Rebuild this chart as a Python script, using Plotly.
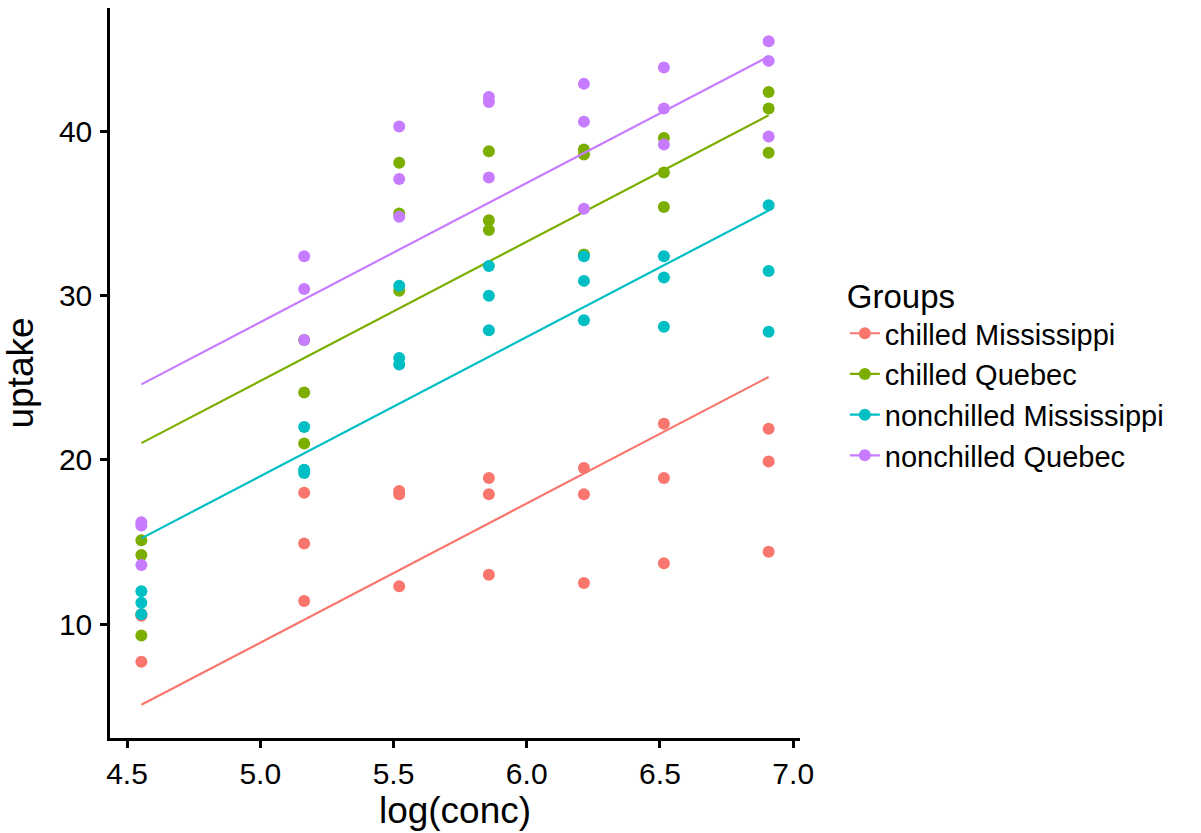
import numpy as np
import plotly.graph_objects as go

conc = [95, 175, 250, 350, 500, 675, 1000]
groups = ["chilled Mississippi", "chilled Quebec", "nonchilled Mississippi", "nonchilled Quebec"]
colors = ["#F8766D", "#7CAE00", "#00BFC4", "#C77CFF"]

# uptake per plant, by concentration
chilled_mississippi = [
    [10.5, 14.9, 18.1, 18.9, 19.5, 22.2, 21.9],
    [7.7, 11.4, 12.3, 13.0, 12.5, 13.7, 14.4],
    [10.6, 18.0, 17.9, 17.9, 17.9, 18.9, 19.9],
]
chilled_quebec = [
    [14.2, 24.1, 30.3, 34.6, 32.5, 35.4, 38.7],
    [9.3, 27.3, 35.0, 38.8, 38.6, 37.5, 42.4],
    [15.1, 21.0, 38.1, 34.0, 38.9, 39.6, 41.4],
]
nonchilled_mississippi = [
    [10.6, 19.2, 26.2, 30.0, 30.9, 32.4, 35.5],
    [12.0, 22.0, 30.6, 31.8, 32.4, 31.1, 31.5],
    [11.3, 19.4, 25.8, 27.9, 28.5, 28.1, 27.8],
]
nonchilled_quebec = [
    [16.0, 30.4, 34.8, 37.2, 35.3, 39.2, 39.7],
    [13.6, 27.3, 37.1, 41.8, 40.6, 41.4, 44.3],
    [16.2, 32.4, 40.3, 42.1, 42.9, 43.9, 45.5],
]
uptakes = [chilled_mississippi, chilled_quebec, nonchilled_mississippi, nonchilled_quebec]

logc = np.log(np.array(conc, dtype=float))

# common-slope linear model: uptake ~ log(conc) + group
X_rows, y_vals = [], []
for gi, plants in enumerate(uptakes):
    for plant in plants:
        for xv, yv in zip(logc, plant):
            row = [xv] + [1.0 if k == gi else 0.0 for k in range(len(groups))]
            X_rows.append(row)
            y_vals.append(yv)
coef, *_ = np.linalg.lstsq(np.array(X_rows), np.array(y_vals), rcond=None)
slope = coef[0]

fig = go.Figure()
all_y = []
for gi, (name, plants, col) in enumerate(zip(groups, uptakes, colors)):
    xs = np.concatenate([logc for _ in plants])
    ys = np.concatenate([np.array(p) for p in plants])
    fit = coef[1 + gi] + slope * logc
    all_y.extend(list(ys) + list(fit))
    fig.add_trace(go.Scatter(x=logc, y=fit, mode="lines",
                             line=dict(color=col, width=2.2), showlegend=False,
                             hoverinfo="skip"))
    fig.add_trace(go.Scatter(x=xs, y=ys, mode="markers",
                             marker=dict(color=col, size=12), showlegend=False,
                             name=name))
    fig.add_trace(go.Scatter(x=[None], y=[None], mode="lines+markers", name=name,
                             line=dict(color=col, width=2.2),
                             marker=dict(color=col, size=12)))

xmin, xmax = logc.min(), logc.max()
xspan = xmax - xmin
ymin, ymax = min(all_y), max(all_y)
yspan = ymax - ymin

axis_common = dict(showgrid=False, zeroline=False, showline=True, linecolor="black",
                   linewidth=2.5, ticks="outside", ticklen=7, tickwidth=2.5,
                   tickcolor="black", tickfont=dict(size=30, color="black"),
                   mirror=False)

fig.update_layout(
    width=1201, height=833,
    margin=dict(l=110, r=401, t=8, b=95),
    plot_bgcolor="white", paper_bgcolor="white",
    font=dict(family="Liberation Sans, Arial, sans-serif", color="black"),
    xaxis=dict(range=[xmin - 0.05 * xspan, xmax + 0.05 * xspan],
               tickvals=[4.5, 5.0, 5.5, 6.0, 6.5, 7.0], tickformat=".1f",
               title=dict(text="log(conc)", font=dict(size=37, color="black"), standoff=6),
               **axis_common),
    yaxis=dict(range=[ymin - 0.05 * yspan, ymax + 0.05 * yspan],
               tickvals=[10, 20, 30, 40], ticklabelstandoff=2,
               title=dict(text="uptake", font=dict(size=37, color="black"), standoff=14),
               **axis_common),
    legend=dict(title=dict(text="Groups", font=dict(size=33, color="black")),
                font=dict(size=29, color="black"),
                x=1.065, xanchor="left", y=0.5, yanchor="middle",
                bgcolor="rgba(0,0,0,0)", tracegroupgap=0),
    showlegend=True,
)

fig.write_html("out.html")
